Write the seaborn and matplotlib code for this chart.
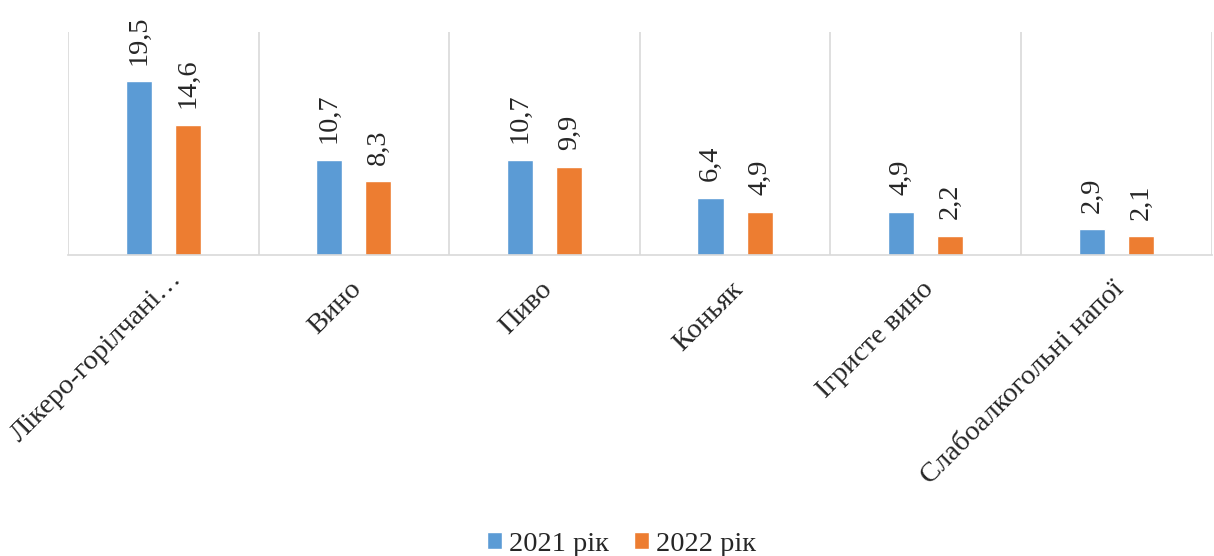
import matplotlib
matplotlib.use("Agg")
import matplotlib.pyplot as plt
import matplotlib.transforms as mtrans
import seaborn as sns
import pandas as pd

categories = ["Лікеро-горілчані…", "Вино", "Пиво", "Коньяк", "Ігристе вино", "Слабоалкогольні напої"]
series_names = ["2021 рік", "2022 рік"]
values_2021 = [19.5, 10.7, 10.7, 6.4, 4.9, 2.9]
values_2022 = [14.6, 8.3, 9.9, 4.9, 2.2, 2.1]
colors = ["#5B9BD5", "#ED7D31"]

df = pd.DataFrame({
    "cat": categories * 2,
    "year": [series_names[0]] * len(categories) + [series_names[1]] * len(categories),
    "val": values_2021 + values_2022,
})

sns.set_theme(style="white")
plt.rcParams["font.family"] = ["Liberation Serif", "DejaVu Serif"]

FS = 20.5

fig = plt.figure(figsize=(12.14, 5.56), dpi=100)
ax = fig.add_axes([0.056, 0.541, 0.942, 0.401])

sns.barplot(data=df, x="cat", y="val", hue="year", palette=colors, ax=ax,
            width=0.516, gap=0.47, order=categories, hue_order=series_names,
            errorbar=None, legend=True, saturation=1)

for cont in ax.containers:
    labels = [f"{v:.1f}".replace(".", ",") for v in cont.datavalues]
    ax.bar_label(cont, labels=labels, rotation=90, padding=12, fontsize=FS)

ax.set_ylim(0, 25)
ax.set_xlim(-0.5, len(categories) - 0.5)
ax.set_yticks([])
ax.set_xlabel("")
ax.set_ylabel("")
for x in range(len(categories) + 1):
    ax.axvline(x - 0.5, color="#d9d9d9", lw=1.2, zorder=0)
for s in ["top", "right", "left"]:
    ax.spines[s].set_visible(False)
ax.spines["bottom"].set_color("#d9d9d9")
ax.spines["bottom"].set_linewidth(1.2)
ax.tick_params(axis="x", length=0, pad=4)
ax.set_xticks(range(len(categories)))
ax.set_xticklabels(categories, rotation=45, ha="right", rotation_mode="anchor", fontsize=FS)

for i, lbl in enumerate(ax.get_xticklabels()):
    dx, dy = (6, -5) if i == 0 else (-5, -16)
    offset = mtrans.ScaledTranslation(dx / 100, dy / 100, fig.dpi_scale_trans)
    lbl.set_transform(lbl.get_transform() + offset)

handles, lbls = ax.get_legend_handles_labels()
ax.legend_.remove()
fig.legend(handles, lbls, loc="lower center", bbox_to_anchor=(0.512, -0.047), ncol=2,
           frameon=False, fontsize=FS, handlelength=0.5, handleheight=0.5,
           columnspacing=0.9, handletextpad=0.25)

fig.savefig("out.png", dpi=100)
